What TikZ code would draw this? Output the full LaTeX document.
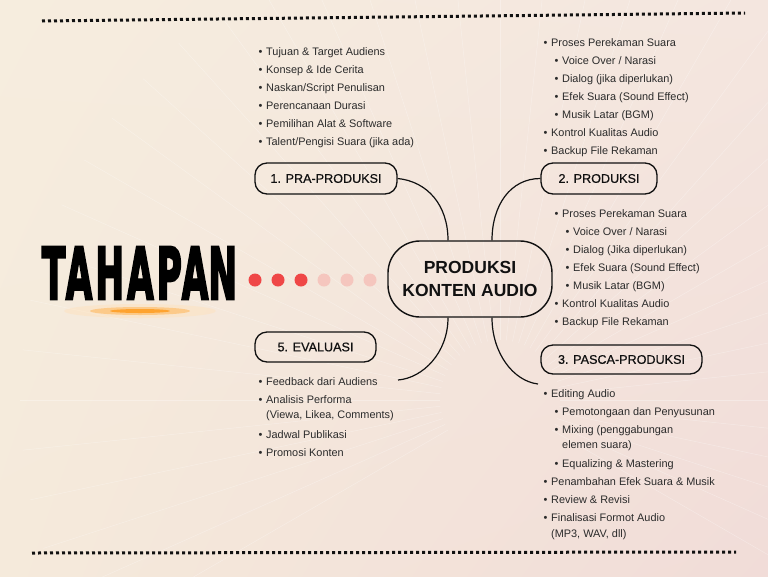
\documentclass[tikz,border=0pt]{standalone}
\usepackage{fontspec}
\setmainfont{Liberation Sans}
\newfontfamily\titlefont[LetterSpace=9,FakeBold=4]{DejaVu Sans}
\newfontfamily\stagefont[FakeBold=0.6]{Liberation Sans}
\usetikzlibrary{calc,shadings}
\definecolor{bgA}{HTML}{F6EDDE}
\definecolor{bgB}{HTML}{F4E6DF}
\definecolor{bgC}{HTML}{F5EADB}
\definecolor{bgD}{HTML}{F1DCD8}
\definecolor{txt}{HTML}{2B2B2B}
\definecolor{ink}{HTML}{111111}
\definecolor{dotred}{HTML}{EF4747}
\definecolor{dotpale}{HTML}{F5C6BE}
\definecolor{glow}{HTML}{FF9A1A}
\newcommand\bul{\makebox[7.5pt][l]{\fontsize{11}{11}\selectfont•}}
\tikzset{
  itm/.style={anchor=base west, inner sep=0pt, font=\fontsize{10.9}{12}\selectfont, text=txt},
  stage/.style={draw=ink, line width=1.3pt, rounded corners=12pt, minimum height=31pt, inner sep=0pt, font=\stagefont\fontsize{12.6}{14}\selectfont, text=ink},
  hub/.style={draw=ink, line width=1.4pt, rounded corners=32pt, minimum width=164pt, minimum height=76pt, inner sep=0pt, align=center, font=\fontsize{17.5}{23}\selectfont\bfseries, text=ink},
  conn/.style={draw=ink, line width=1.2pt},
  dotline/.style={draw=ink, line width=3pt, dash pattern=on 3pt off 3pt},
  reddot/.style={circle, fill=dotred, minimum size=13pt, inner sep=0pt},
  paledot/.style={circle, fill=dotpale, minimum size=13pt, inner sep=0pt},
  ray/.style={draw=white, line width=0.5pt, opacity=0.3}
}
\begin{document}
\begin{tikzpicture}[x=1pt,y=-1pt]
\useasboundingbox (0,0) rectangle (768,576);
\shade[upper left=bgA, upper right=bgB, lower left=bgC, lower right=bgD] (0,0) rectangle (768,576);
% faint rays
\coordinate (rayc) at (500,400);
\begin{scope}
\clip (0,0) rectangle (768,576);
\foreach \a in {150,156,...,390} \draw[ray] ($(rayc)+(\a:60)$) -- ++(\a:420);
\end{scope}
% dotted rules
\coordinate (ta) at (42,21);
\coordinate (tb) at (745,13);
\coordinate (ba) at (32,553);
\coordinate (bb) at (736,552);
\draw[dotline] (ta) -- (tb);
\draw[dotline] (ba) -- (bb);
% title
\fill[glow!30, opacity=0.45] (140,311) ellipse (76pt and 7pt);
\fill[glow!70, opacity=0.6] (140,311) ellipse (50pt and 4pt);
\fill[glow, opacity=0.8] (140,311) ellipse (30pt and 2pt);
\node[inner sep=0pt, text=black] (title) at (139.5,273) {\resizebox{195pt}{52pt}{\titlefont\bfseries TAHAPA\addfontfeature{LetterSpace=0}N}};
% dots
\node[reddot] (p1) at (255,280) {};
\node[reddot] (p2) at (278,280) {};
\node[reddot] (p3) at (301,280) {};
\node[paledot] (p4) at (324,280) {};
\node[paledot] (p5) at (347,280) {};
\node[paledot] (p6) at (370,280) {};
% hub and stages
\node[hub] (c) at (470,279) {PRODUKSI\\KONTEN AUDIO};
\node[stage, minimum width=142pt] (n1) at (326,178.5) {1. PRA-PRODUKSI};
\node[stage, minimum width=116pt] (n2) at (599,178.5) {2. PRODUKSI};
\node[stage, minimum width=121pt, minimum height=30pt] (n5) at (315.5,347) {5. EVALUASI};
\node[stage, minimum width=161pt, minimum height=29pt] (n3) at (621.5,359.5) {3. PASCA-PRODUKSI};
% PRA list
\node[itm] (a1) at (258.5,55.5) {\bul Tujuan \& Target Audiens};
\node[itm] (a2) at (258.5,73.5) {\bul Konsep \& Ide Cerita};
\node[itm] (a3) at (258.5,91.5) {\bul Naskan/Script Penulisan};
\node[itm] (a4) at (258.5,109.5) {\bul Perencanaan Durasi};
\node[itm] (a5) at (258.5,127.5) {\bul Pemilihan Alat \& Software};
\node[itm] (a6) at (258.5,145.5) {\bul Talent/Pengisi Suara (jika ada)};
% top right list
\node[itm] (b1) at (543.5,46.5) {\bul Proses Perekaman Suara};
\node[itm] (b2) at (554.5,64.5) {\bul Voice Over / Narasi};
\node[itm] (b3) at (554.5,82.5) {\bul Dialog (jika diperlukan)};
\node[itm] (b4) at (554.5,100.5) {\bul Efek Suara (Sound Effect)};
\node[itm] (b5) at (554.5,118.5) {\bul Musik Latar (BGM)};
\node[itm] (b6) at (543.5,136.5) {\bul Kontrol Kualitas Audio};
\node[itm] (b7) at (543.5,154.5) {\bul Backup File Rekaman};
% middle right list
\node[itm] (m1) at (554.5,217.5) {\bul Proses Perekaman Suara};
\node[itm] (m2) at (565.5,235.5) {\bul Voice Over / Narasi};
\node[itm] (m3) at (565.5,253.5) {\bul Dialog (Jika diperlukan)};
\node[itm] (m4) at (565.5,271.5) {\bul Efek Suara (Sound Effect)};
\node[itm] (m5) at (565.5,289.5) {\bul Musik Latar (BGM)};
\node[itm] (m6) at (554.5,307.5) {\bul Kontrol Kualitas Audio};
\node[itm] (m7) at (554.5,325.5) {\bul Backup File Rekaman};
% evaluasi list
\node[itm] (e1) at (258.5,385.5) {\bul Feedback dari Audiens};
\node[itm] (e2) at (258.5,403.5) {\bul Analisis Performa};
\node[itm] (e2b) at (266,418.5) {(Viewa, Likea, Comments)};
\node[itm] (e3) at (258.5,438.5) {\bul Jadwal Publikasi};
\node[itm] (e4) at (258.5,456.5) {\bul Promosi Konten};
% pasca list
\node[itm] (q1) at (543.5,397.5) {\bul Editing Audio};
\node[itm] (q2) at (554.5,415.5) {\bul Pemotongaan dan Penyusunan};
\node[itm] (q3) at (554.5,433.5) {\bul Mixing (penggabungan};
\node[itm] (q3b) at (562,448.5) {elemen suara)};
\node[itm] (q4) at (554.5,467.5) {\bul Equalizing \& Mastering};
\node[itm] (q5) at (543.5,485.5) {\bul Penambahan Efek Suara \& Musik};
\node[itm] (q6) at (543.5,503.5) {\bul Review \& Revisi};
\node[itm] (q7) at (543.5,521.5) {\bul Finalisasi Formot Audio};
\node[itm] (q7b) at (551,537.5) {(MP3, WAV, dll)};
% connectors
\coordinate (t5) at (398,380);
\coordinate (t3) at (538,384);
\draw[conn] (n1.east) .. controls +(30,3) and +(0,-35) .. ([xshift=-22pt]c.north);
\draw[conn] ([xshift=22pt]c.north) .. controls +(0,-35) and +(-30,0) .. (n2.west);
\draw[conn] ([xshift=-22pt]c.south) .. controls +(0,35) and +(25,-2) .. (t5);
\draw[conn] ([xshift=22pt]c.south) .. controls +(0,35) and +(-25,-3) .. (t3);
\end{tikzpicture}
\end{document}
